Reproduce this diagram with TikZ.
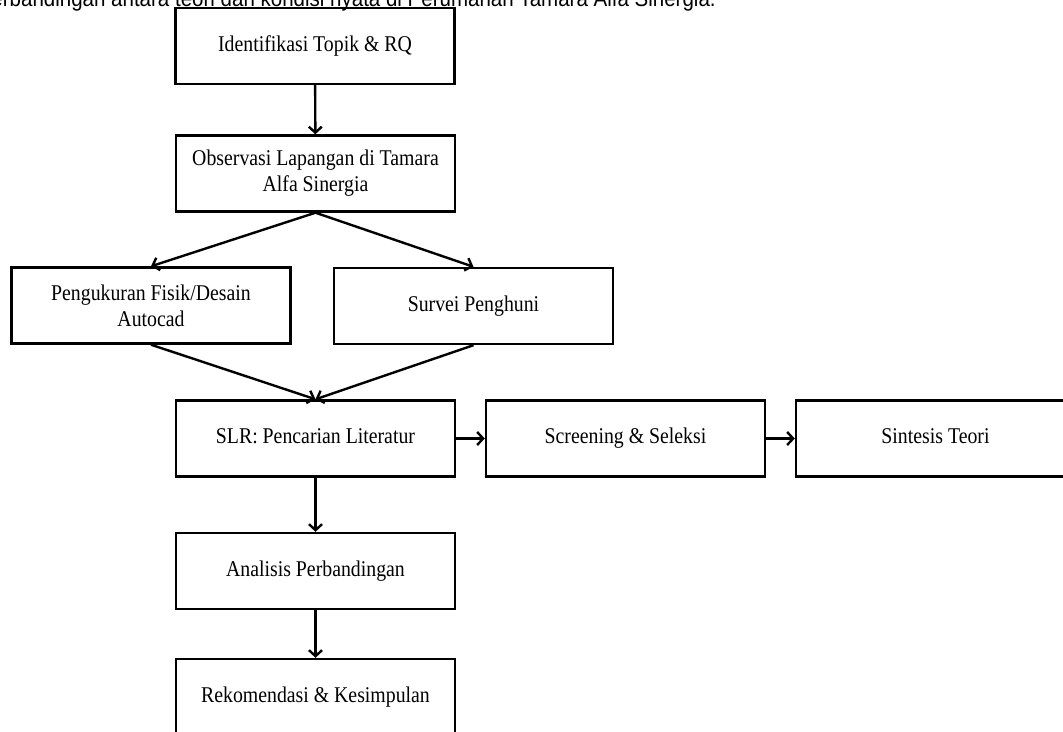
\documentclass[tikz,border=0pt]{standalone}
\usepackage{fontspec}
\setmainfont{Liberation Serif}
\newfontfamily\boxfont[FakeStretch=0.88]{Liberation Serif}
\newfontfamily\capfont[FakeStretch=0.9]{Liberation Sans}
\usetikzlibrary{arrows.meta}
\begin{document}
\begin{tikzpicture}[x=1pt,y=-1pt,
  box/.style={draw, line width=2.4pt, minimum width=279pt, minimum height=76pt,
    inner sep=0pt, align=center, font=\boxfont\fontsize{22.5}{26}\selectfont},
  one/.style={text height=15.5pt, text depth=5pt},
  conn/.style={line width=2.4pt, -{Straight Barb[length=6pt,width=13pt]}}]
\useasboundingbox (0,0) rectangle (1063,731);
\node[anchor=base east, inner sep=0pt, font=\capfont\fontsize{22.8}{26}\selectfont] (cap) at (716,6)
  {perbandingan antara teori dan kondisi nyata di Perumahan Tamara Alfa Sinergia.};
\node[box,one] (b1) at (315,46) {Identifikasi Topik \& RQ};
\node[box] (b2) at (315.5,173.5) {Observasi Lapangan di Tamara\\Alfa Sinergia};
\node[box] (b3) at (151,305.5) {Pengukuran Fisik/Desain\\Autocad};
\node[box,one] (b4) at (473.5,306) {Survei Penghuni};
\node[box,one] (b5) at (315.5,438.5) {SLR: Pencarian Literatur};
\node[box,one] (b6) at (625.5,438.5) {Screening \& Seleksi};
\node[box,one] (b7) at (935.5,438.5) {Sintesis Teori};
\node[box,one] (b8) at (315.5,571) {Analisis Perbandingan};
\node[box,one] (b9) at (315.5,697) {Rekomendasi \& Kesimpulan};
\draw[conn] (b1) -- (b2);
\draw[conn] (b2.south) -- (b3.north);
\draw[conn] (b2.south) -- (b4.north);
\draw[conn] (b3.south) -- (b5.north);
\draw[conn] (b4.south) -- (b5.north);
\draw[conn] (b5) -- (b6);
\draw[conn] (b6) -- (b7);
\draw[conn] (b5) -- (b8);
\draw[conn] (b8) -- (b9);
\end{tikzpicture}
\end{document}
